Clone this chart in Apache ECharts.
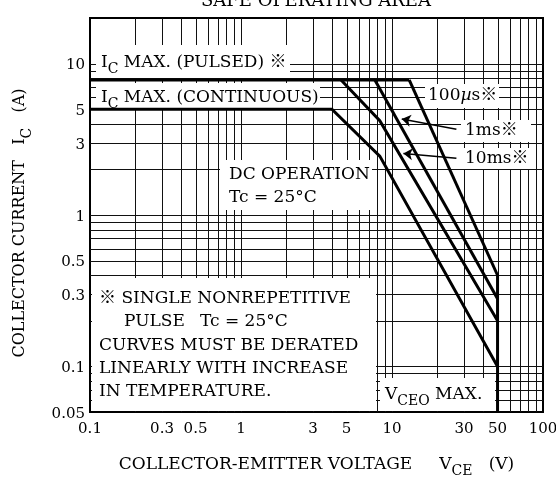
<!DOCTYPE html>
<html lang="en">
<head>
  <meta charset="UTF-8">
  <title>Safe Operating Area</title>
  <script src="https://cdn.jsdelivr.net/npm/echarts@6/dist/echarts.min.js"></script>
  <style>
    html, body { margin: 0; padding: 0; background: #fff; }
    #soa { width: 556px; height: 480px; }
  </style>
</head>
<body>
<div id="soa"></div>
<script>
  // axis ranges and tick labels
  const xMin = 0.1, xMax = 100;
  const yMin = 0.05, yMax = 20;
  const xTicks = [0.1, 0.3, 0.5, 1, 3, 5, 10, 30, 50, 100];
  const yTicks = [0.05, 0.1, 0.3, 0.5, 1, 3, 5, 10];

  // SOA boundaries, points are [VCE (V), IC (A)]
  const icPulsed = [[0.1, 7.8], [13, 7.8]];
  const dcCurve = [[0.1, 5], [4, 5], [8.3, 2.45], [50, 0.1]];
  const curve10ms = [[4.6, 7.8], [8.3, 4.2], [50, 0.2]];
  const curve1ms = [[7.7, 7.8], [50, 0.28]];
  const curve100us = [[13, 7.8], [50, 0.4]];
  const vceoMax = [[50, 0.4], [50, 0.05]];

  // label arrows, [tail, head]
  const arrow1ms = [[26.7, 3.68], [11.6, 4.3]];
  const arrow10ms = [[26.7, 2.37], [11.9, 2.55]];

  // log grid lines (1..9 per decade)
  const xGrid = [], yGrid = [];
  [0.1, 1, 10].forEach(d => { for (let k = 2; k <= 10; k++) xGrid.push(d * k); });
  [0.01, 0.1, 1, 10].forEach(d => { for (let k = 1; k <= 9; k++) yGrid.push(d * k); });
  const xLines = xGrid.filter(v => v > xMin * 1.001 && v < xMax * 0.999);
  const yLines = yGrid.filter(v => v > yMin * 1.001 && v < yMax * 0.999);

  const SERIF = "'DejaVu Serif', 'Noto Sans CJK JP', serif";

  const richG = {
    n: {fill: '#000', fontFamily: SERIF, fontSize: 17, lineHeight: 20, verticalAlign: 'top'},
    i: {fill: '#000', fontFamily: SERIF, fontSize: 17, fontStyle: 'italic', lineHeight: 20, verticalAlign: 'top'},
    s: {fill: '#000', fontFamily: SERIF, fontSize: 14, lineHeight: 15, padding: [8, 0, 0, 0], verticalAlign: 'top'}
  };
  function richAxis(size) {
    return {
      n: {color: '#000', fontFamily: SERIF, fontSize: size, lineHeight: 20, verticalAlign: 'top'},
      s: {color: '#000', fontFamily: SERIF, fontSize: 14, lineHeight: 15, padding: [8, 0, 0, 0], verticalAlign: 'top'}
    };
  }

  function box(x, y, w, h) {
    return {type: 'rect', z: 5, silent: true, shape: {x: x, y: y, width: w, height: h}, style: {fill: '#fff'}};
  }
  function label(x, cy, text) {
    return {
      type: 'text', z: 6, silent: true, x: x, y: cy - 8,
      style: {text: text, rich: richG, fill: '#000', font: '17px ' + SERIF, verticalAlign: 'top'}
    };
  }

  function gridLine(vertical) {
    return function (params, api) {
      const v = api.value(vertical ? 0 : 1);
      let a, b;
      if (vertical) {
        a = api.coord([v, yMax]); b = api.coord([v, yMin]);
        const x = Math.round(a[0]) + 0.5;
        return {type: 'line', shape: {x1: x, y1: a[1], x2: x, y2: b[1]}, style: {stroke: '#111', lineWidth: 1}};
      }
      a = api.coord([xMin, v]); b = api.coord([xMax, v]);
      const y = Math.round(a[1]) + 0.5;
      return {type: 'line', shape: {x1: a[0], y1: y, x2: b[0], y2: y}, style: {stroke: '#111', lineWidth: 1}};
    };
  }

  function curve(data) {
    return {
      type: 'line', data: data, z: 10, symbol: 'none', silent: true,
      lineStyle: {color: '#000', width: 3, cap: 'butt', join: 'miter'}
    };
  }

  const chart = echarts.init(document.getElementById('soa'));
  const option = {
    animation: false,
    backgroundColor: '#fff',
    grid: {
      left: 90, right: 13, top: 18, bottom: 68, show: true, borderColor: '#000', borderWidth: 2,
      containLabel: false, outerBoundsMode: 'none'
    },
    xAxis: {
      type: 'log', logBase: 10, min: xMin, max: xMax,
      axisLine: {show: false}, axisTick: {show: false}, axisLabel: {show: false}, splitLine: {show: false},
      name: '{n|COLLECTOR-EMITTER VOLTAGE     V}{s|CE}{n|   (V)}',
      nameLocation: 'middle', nameGap: 44,
      nameTextStyle: {rich: richAxis(17)}
    },
    yAxis: {
      type: 'log', logBase: 10, min: yMin, max: yMax,
      axisLine: {show: false}, axisTick: {show: false}, axisLabel: {show: false}, splitLine: {show: false},
      name: '{n|COLLECTOR CURRENT   I}{s|C}{n|   (A)}',
      nameLocation: 'middle', nameGap: 58, nameRotate: 90,
      nameTextStyle: {rich: richAxis(16), padding: [0, 16, 0, 0]}
    },
    graphic: [
      {
        type: 'text', z: 6, x: 316, y: 10,
        style: {text: 'SAFE OPERATING AREA', fill: '#000', font: '18px ' + SERIF, align: 'center', verticalAlign: 'bottom'}
      },
      box(96, 45, 194, 33),
      label(101, 62, '{n|I}{s|C}{n| MAX. (PULSED) ※}'),
      box(96, 83, 224, 25),
      label(101, 97, '{n|I}{s|C}{n| MAX. (CONTINUOUS)}'),
      box(425, 84, 74, 24),
      label(428, 95, '{n|100}{i|µ}{n|s※}'),
      box(461, 120, 70, 22),
      label(465, 130, '{n|1ms※}'),
      box(461, 148, 70, 21),
      label(465, 158, '{n|10ms※}'),
      box(220, 160, 152, 50),
      label(229, 174, '{n|DC OPERATION}'),
      label(229, 197, '{n|Tc = 25°C}'),
      box(92, 278, 284, 133),
      label(99, 298, '{n|※ SINGLE NONREPETITIVE}'),
      label(124, 321, '{n|PULSE}'),
      label(200, 321, '{n|Tc = 25°C}'),
      label(99, 345, '{n|CURVES MUST BE DERATED}'),
      label(99, 368, '{n|LINEARLY WITH INCREASE}'),
      label(99, 391, '{n|IN TEMPERATURE.}'),
      box(380, 378, 115, 33),
      label(385, 394, '{n|V}{s|CEO}{n| MAX.}')
    ],
    series: [
      {type: 'custom', z: 1, silent: true, clip: false, data: xLines.map(v => [v, yMin]), renderItem: gridLine(true)},
      {type: 'custom', z: 1, silent: true, clip: false, data: yLines.map(v => [xMin, v]), renderItem: gridLine(false)},
      {
        type: 'custom', z: 4, silent: true, clip: false,
        data: xTicks.map(v => [v, yMin]),
        renderItem: function (params, api) {
          const v = api.value(0);
          const p = api.coord([v, yMin]);
          return {
            type: 'text', x: p[0], y: p[1] + 10,
            style: {text: String(v), fill: '#000', font: '15px ' + SERIF, align: 'center', verticalAlign: 'top'}
          };
        }
      },
      {
        type: 'custom', z: 4, silent: true, clip: false,
        data: yTicks.map(v => [xMin, v]),
        renderItem: function (params, api) {
          const v = api.value(1);
          const p = api.coord([xMin, v]);
          return {
            type: 'text', x: p[0] - 5, y: p[1] + 2,
            style: {text: String(v), fill: '#000', font: '15px ' + SERIF, align: 'right', verticalAlign: 'middle'}
          };
        }
      },
      curve(icPulsed),
      curve(dcCurve),
      curve(curve10ms),
      curve(curve1ms),
      curve(curve100us),
      curve(vceoMax),
      {
        type: 'lines', coordinateSystem: 'cartesian2d', z: 10, silent: true,
        symbol: ['none', 'arrow'], symbolSize: [0, 9],
        lineStyle: {color: '#000', width: 1.5, opacity: 1},
        data: [{coords: arrow1ms}, {coords: arrow10ms}]
      }
    ]
  };
  chart.setOption(option);
</script>
</body>
</html>
